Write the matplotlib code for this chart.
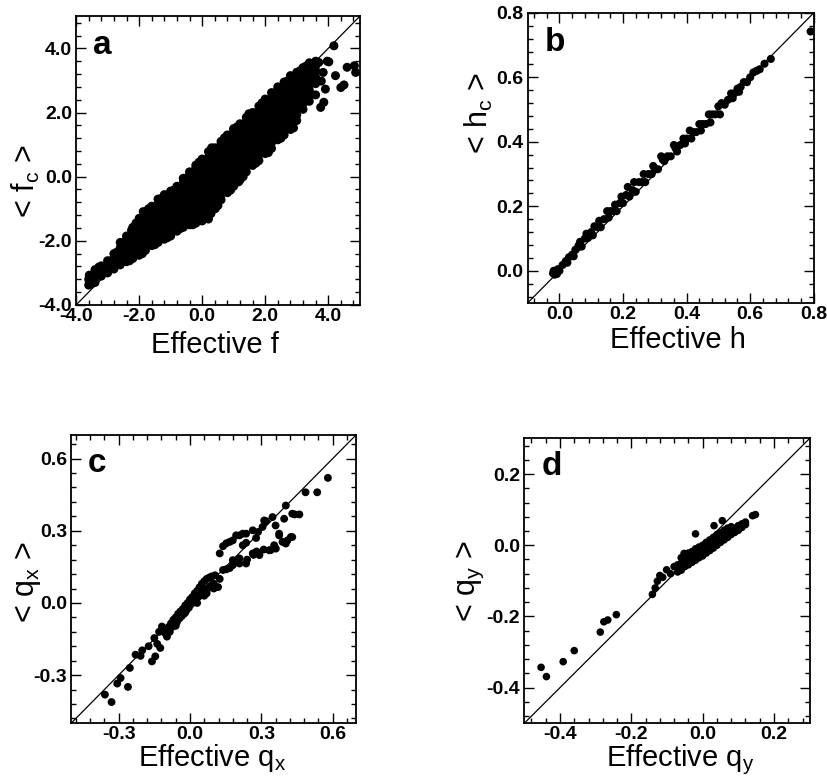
"""Four scatter panels: ensemble averages against effective values."""

import matplotlib
matplotlib.use("Agg")
import matplotlib.pyplot as plt
from matplotlib.ticker import MultipleLocator, FormatStrFormatter

plt.rcParams["font.family"] = ["Liberation Sans", "DejaVu Sans"]
plt.rcParams["mathtext.fontset"] = "custom"
plt.rcParams["mathtext.rm"] = "Liberation Sans"
plt.rcParams["mathtext.it"] = "Liberation Sans:italic"

# ---- panel a: dense cloud, read column by column ----
A_COL_X = [-3.6, -3.4, -3.2, -3.0, -2.8, -2.6, -2.4, -2.2, -2.0, -1.8, -1.6, -1.4,
           -1.2, -1.0, -0.8, -0.6, -0.4, -0.2, 0.0, 0.2, 0.4, 0.6, 0.8, 1.0,
           1.2, 1.4, 1.6, 1.8, 2.0, 2.2, 2.4, 2.6, 2.8, 3.0, 3.2, 3.4, 3.6]
A_COL_Y = [
    [-3.38, -3.2],
    [-3.3, -3.12, -2.9],
    [-3.1, -2.92, -2.78],
    [-3.0, -2.82, -2.62],
    [-2.88, -2.7, -2.52, -2.4],
    [-2.75, -2.57, -2.4, -2.22, -2.05],
    [-2.65, -2.47, -2.3, -2.12, -1.95, -1.85],
    [-2.55, -2.37, -2.2, -2.02, -1.85, -1.68, -1.58],
    [-2.45, -2.28, -2.1, -1.92, -1.75, -1.58, -1.42, -1.3],
    [-2.3, -2.13, -1.95, -1.78, -1.6, -1.43, -1.26, -1.1],
    [-2.15, -1.98, -1.8, -1.63, -1.45, -1.28, -1.1, -0.92],
    [-2.05, -1.88, -1.7, -1.52, -1.35, -1.17, -1.0, -0.84, -0.7],
    [-1.95, -1.78, -1.6, -1.42, -1.25, -1.07, -0.9, -0.72, -0.56],
    [-1.85, -1.68, -1.5, -1.32, -1.15, -0.97, -0.8, -0.62, -0.45],
    [-1.7, -1.53, -1.35, -1.17, -1.0, -0.82, -0.65, -0.47, -0.3],
    [-1.58, -1.4, -1.23, -1.05, -0.88, -0.7, -0.52, -0.35, -0.18, -0.05],
    [-1.5, -1.33, -1.15, -0.98, -0.8, -0.62, -0.45, -0.27, -0.1, 0.06, 0.15],
    [-1.45, -1.27, -1.1, -0.92, -0.75, -0.57, -0.4, -0.22, -0.05, 0.12, 0.28, 0.36],
    [-1.38, -1.2, -1.03, -0.85, -0.68, -0.5, -0.33, -0.15, 0.02, 0.2, 0.37, 0.55],
    [-1.32, -1.15, -0.97, -0.8, -0.62, -0.45, -0.27, -0.1, 0.08, 0.25, 0.43, 0.6, 0.78],
    [-1.0, -0.83, -0.65, -0.48, -0.3, -0.13, 0.05, 0.22, 0.4, 0.57, 0.75, 0.9],
    [-0.72, -0.55, -0.37, -0.2, -0.02, 0.15, 0.33, 0.5, 0.68, 0.85, 1.02, 1.1],
    [-0.5, -0.33, -0.15, 0.02, 0.2, 0.37, 0.55, 0.72, 0.9, 1.07, 1.25, 1.3],
    [-0.3, -0.12, 0.05, 0.23, 0.4, 0.58, 0.75, 0.93, 1.1, 1.28, 1.45, 1.5],
    [-0.1, 0.08, 0.25, 0.43, 0.6, 0.78, 0.95, 1.13, 1.3, 1.48, 1.65],
    [0.15, 0.32, 0.5, 0.67, 0.85, 1.02, 1.2, 1.37, 1.55, 1.72, 1.85],
    [0.35, 0.52, 0.7, 0.87, 1.05, 1.22, 1.4, 1.57, 1.75, 1.92, 2.0],
    [0.5, 0.68, 0.85, 1.03, 1.2, 1.38, 1.55, 1.73, 1.9, 2.08, 2.2],
    [0.72, 0.9, 1.07, 1.25, 1.42, 1.6, 1.77, 1.95, 2.12, 2.3, 2.42],
    [0.88, 1.05, 1.23, 1.4, 1.58, 1.75, 1.93, 2.1, 2.28, 2.45, 2.62],
    [1.15, 1.32, 1.5, 1.67, 1.85, 2.02, 2.2, 2.37, 2.55, 2.72, 2.8],
    [1.3, 1.48, 1.65, 1.83, 2.0, 2.18, 2.35, 2.53, 2.7, 2.88, 2.95],
    [1.47, 1.65, 1.82, 2.0, 2.17, 2.35, 2.52, 2.7, 2.87, 3.05, 3.15],
    [1.75, 1.92, 2.1, 2.27, 2.45, 2.62, 2.8, 2.97, 3.15, 3.25],
    [2.1, 2.27, 2.45, 2.62, 2.8, 2.97, 3.15, 3.32, 3.4],
    [2.35, 2.52, 2.7, 2.87, 3.05, 3.22, 3.4, 3.55],
    [2.55, 2.9, 3.1, 3.3, 3.45, 3.6],
]
# scattered points along the edges of the cloud and the isolated ones top right
A_OUT_X = [-3.58, -3.5, -3.28, -2.94, -2.7, -0.02, 0.12, 0.28, 3.76, 3.86, 3.78,
           3.84, 3.7, 3.97, 4.02, 4.18, 4.23, 4.4, 4.5, 4.6, 4.83, 4.87, 3.91,
           -2.5, -2.1, -1.7, -1.3, -0.9, -0.5, -0.1, 0.3, 0.7, 1.1, 1.5, 1.9, 2.3,
           2.7, 3.1, 3.3, -2.3, -1.9, -1.5, -1.1, -0.7, -0.3, 0.5, 0.9, 1.3, 1.7,
           2.1, 2.5, 2.9, -1.87, -2.24, 0.74, 1.48, 2.65, 3.02, 0.42, 1.16, 2.43]
A_OUT_Y = [-3.07, -3.33, -2.82, -2.66, -2.35, -1.36, -1.3, -1.15, 2.16, 2.32, 2.98,
           3.25, 3.56, 3.6, 3.58, 4.08, 3.15, 2.78, 2.86, 3.41, 3.46, 3.25, 2.73,
           -2.2, -1.45, -1.0, -0.68, -0.42, -0.12, 0.45, 0.9, 1.2, 1.55, 1.9, 2.3, 2.55,
           2.98, 3.3, 3.45, -2.62, -2.4, -2.12, -1.9, -1.62, -1.5, -0.9, -0.42, 0.0, 0.42,
           0.75, 1.2, 1.52, -1.09, -1.67, 1.23, 1.96, 2.94, 3.25, -0.99, -0.16, 1.18]

# ---- panel b ----
B_X = [-0.02, -0.015, -0.01, -0.018, -0.008, 0.0, -0.005, 0.01, 0.02, 0.025, 0.03,
       0.04, 0.045, 0.05, 0.06, 0.065, 0.07, 0.08, 0.085, 0.09, 0.10, 0.105, 0.11,
       0.12, 0.125, 0.13, 0.14, 0.15, 0.155, 0.16, 0.17, 0.175, 0.18, 0.19, 0.195,
       0.2, 0.21, 0.215, 0.22, 0.23, 0.235, 0.24, 0.25, 0.26, 0.265, 0.27, 0.28,
       0.29, 0.295, 0.3, 0.31, 0.32, 0.325, 0.33, 0.34, 0.35, 0.36, 0.365, 0.37,
       0.38, 0.39, 0.395, 0.4, 0.41, 0.415, 0.42, 0.43, 0.44, 0.445, 0.45, 0.46,
       0.47, 0.475, 0.48, 0.49, 0.5, 0.505, 0.51, 0.52, 0.53, 0.54, 0.545, 0.55,
       0.56, 0.565, 0.57, 0.58, 0.59, 0.6, 0.61, 0.62, 0.63, 0.645, 0.665, 0.79]
B_Y = [-0.008, -0.012, -0.005, 0.0, -0.01, 0.0, 0.005, 0.018, 0.03, 0.025, 0.042,
       0.05, 0.045, 0.065, 0.078, 0.09, 0.075, 0.1, 0.115, 0.102, 0.12, 0.11, 0.138,
       0.135, 0.155, 0.135, 0.16, 0.185, 0.165, 0.185, 0.185, 0.205, 0.185, 0.21, 0.23,
       0.21, 0.235, 0.26, 0.23, 0.25, 0.275, 0.245, 0.275, 0.275, 0.3, 0.275, 0.3,
       0.3, 0.325, 0.315, 0.315, 0.355, 0.345, 0.34, 0.355, 0.355, 0.39, 0.38, 0.37,
       0.39, 0.41, 0.395, 0.41, 0.435, 0.41, 0.43, 0.43, 0.455, 0.435, 0.455, 0.455,
       0.485, 0.46, 0.485, 0.485, 0.51, 0.485, 0.52, 0.515, 0.53, 0.55, 0.535, 0.55,
       0.565, 0.555, 0.57, 0.585, 0.585, 0.6, 0.615, 0.62, 0.625, 0.642, 0.657, 0.742]

# ---- panel c ----
C_X = [-0.358, -0.33, -0.306, -0.292, -0.261, -0.253, -0.229, -0.208, -0.201, -0.174,
       -0.16, -0.146, -0.15, -0.138, -0.125, -0.118, -0.111, -0.097, -0.09, -0.13,
       -0.105, -0.085,
       -0.08, -0.075, -0.07, -0.065, -0.06, -0.055, -0.05, -0.045, -0.04, -0.035,
       -0.03, -0.025, -0.02, -0.015, -0.01, -0.005, 0.0, 0.005, 0.01, 0.015, 0.02,
       0.025, 0.03, 0.035, 0.04, 0.045, 0.05, 0.055, 0.06, 0.065, 0.07, 0.075, 0.08,
       0.085, 0.09, 0.1, 0.105, 0.118, 0.1, 0.07, 0.03, 0.06, -0.06, -0.02,
       0.125, 0.139, 0.153, 0.167, 0.18, 0.18, 0.208, 0.208, 0.236, 0.24, 0.264,
       0.267, 0.28, 0.292, 0.31, 0.333, 0.34, 0.354, 0.361, 0.375, 0.389, 0.403,
       0.41, 0.424, 0.43,
       0.125, 0.139, 0.153, 0.167, 0.18, 0.194, 0.208, 0.222, 0.222, 0.236, 0.236,
       0.264, 0.278, 0.286, 0.305, 0.312, 0.32, 0.347, 0.36, 0.375, 0.396, 0.403,
       0.43, 0.44, 0.46, 0.486, 0.535, 0.58]
C_Y = [-0.381, -0.412, -0.335, -0.312, -0.349, -0.27, -0.215, -0.22, -0.197, -0.18,
       -0.243, -0.222, -0.146, -0.17, -0.187, -0.098, -0.112, -0.14, -0.1, -0.12,
       -0.125, -0.12,
       -0.085, -0.1, -0.07, -0.09, -0.06, -0.08, -0.045, -0.065, -0.035, -0.055,
       -0.025, -0.045, -0.01, -0.03, 0.0, -0.02, 0.015, -0.005, 0.025, 0.005, 0.04,
       0.015, 0.05, 0.025, 0.065, 0.035, 0.08, 0.045, 0.09, 0.055, 0.1, 0.06, 0.105,
       0.07, 0.11, 0.08, 0.115, 0.066, 0.06, 0.04, 0.0, 0.03, -0.095, -0.04,
       0.1, 0.137, 0.14, 0.145, 0.157, 0.178, 0.164, 0.185, 0.164, 0.18, 0.206,
       0.2, 0.214, 0.199, 0.222, 0.219, 0.22, 0.24, 0.226, 0.281, 0.254, 0.247,
       0.26, 0.274, 0.274,
       0.206, 0.236, 0.248, 0.254, 0.26, 0.281, 0.281, 0.288, 0.24, 0.288, 0.25,
       0.302, 0.27, 0.295, 0.316, 0.343, 0.34, 0.357, 0.322, 0.288, 0.35, 0.405,
       0.371, 0.368, 0.368, 0.46, 0.46, 0.52]

# ---- panel d ----
D_X = [-0.453, -0.438, -0.391, -0.36, -0.287, -0.277, -0.266, -0.242, -0.141, -0.133,
       -0.127, -0.12, -0.112, -0.101, -0.09, -0.08,
       -0.07, -0.07, -0.06, -0.06, -0.06, -0.05, -0.05, -0.05, -0.04, -0.04, -0.04,
       -0.03, -0.03, -0.03, -0.02, -0.02, -0.02, -0.01, -0.01, -0.01, 0.0, 0.0, 0.0,
       0.01, 0.01, 0.01, 0.02, 0.02, 0.02, 0.03, 0.03, 0.03, 0.04, 0.04, 0.04,
       0.05, 0.05, 0.05, 0.06, 0.06, 0.06, 0.07, 0.07, 0.07, 0.08, 0.08, 0.08,
       0.09, 0.09, 0.10, 0.10, 0.11, 0.11, 0.12, 0.12,
       0.14, 0.148, 0.032, 0.055, -0.02, -0.052]
D_Y = [-0.343, -0.369, -0.327, -0.296, -0.244, -0.215, -0.21, -0.195, -0.138, -0.12,
       -0.101, -0.085, -0.09, -0.069, -0.08, -0.06,
       -0.075, -0.055, -0.07, -0.05, -0.035, -0.06, -0.045, -0.03, -0.055, -0.04, -0.022,
       -0.048, -0.032, -0.018, -0.042, -0.025, -0.01, -0.035, -0.02, -0.005, -0.03, -0.015, 0.0,
       -0.022, -0.008, 0.008, -0.015, 0.0, 0.015, -0.008, 0.008, 0.022, 0.0, 0.015, 0.03,
       0.008, 0.022, 0.035, 0.015, 0.028, 0.042, 0.022, 0.035, 0.048, 0.03, 0.042, 0.052,
       0.036, 0.048, 0.042, 0.055, 0.05, 0.06, 0.058, 0.065,
       0.083, 0.086, 0.055, 0.069, 0.032, -0.023]

A_X = [x for x, ys in zip(A_COL_X, A_COL_Y) for _ in ys] + A_OUT_X
A_Y = [y for ys in A_COL_Y for y in ys] + A_OUT_Y

PANELS = [
    # letter, x, y, limits, major, minor, axes rect, xlabel, ylabel, label coords, dot size
    ("a", A_X, A_Y, (-4.0, 5.0), 2.0, 0.4, [0.092, 0.607, 0.343, 0.372],
     "Effective f", r"< f$_\mathregular{c}$ >", (0.49, -0.09), (-0.12, 0.43), 42),
    ("b", B_X, B_Y, (-0.1, 0.8), 0.2, 0.04, [0.638, 0.6095, 0.346, 0.374],
     "Effective h", r"< h$_\mathregular{c}$ >", (0.524, -0.08), (-0.115, 0.655), 34),
    ("c", C_X, C_Y, (-0.5, 0.7), 0.3, 0.06, [0.086, 0.068, 0.345, 0.372],
     r"Effective q$_\mathregular{x}$", r"< q$_\mathregular{x}$ >", (0.495, -0.066), (-0.10, 0.49), 32),
    ("d", D_X, D_Y, (-0.5, 0.3), 0.2, 0.04, [0.634, 0.068, 0.345, 0.367],
     r"Effective q$_\mathregular{y}$", r"< q$_\mathregular{y}$ >", (0.547, -0.068), (-0.135, 0.50), 30),
]

fig = plt.figure(figsize=(8.27, 7.76), dpi=100)

for (letter, xs, ys, lim, major, minor, rect,
     xlabel, ylabel, xlab_pos, ylab_pos, msize) in PANELS:
    ax = fig.add_axes(rect)
    ax.plot(lim, lim, color="black", linewidth=0.9, zorder=1)
    ax.scatter(xs, ys, s=msize, color="black", edgecolors="none", zorder=2)
    ax.set_xlim(lim)
    ax.set_ylim(lim)
    for axis in (ax.xaxis, ax.yaxis):
        axis.set_major_locator(MultipleLocator(major))
        axis.set_minor_locator(MultipleLocator(minor))
        axis.set_major_formatter(FormatStrFormatter("%.1f"))
    ax.tick_params(which="both", direction="in", top=True, right=True, width=1.0)
    ax.tick_params(which="major", length=7, pad=3, labelsize=14)
    ax.tick_params(which="minor", length=3.5)
    ax.tick_params(axis="x", which="major", pad=2)
    for lab in ax.get_xticklabels() + ax.get_yticklabels():
        lab.set_fontweight("bold")
    for sp in ax.spines.values():
        sp.set_linewidth(1.3)
    ax.set_xlabel(xlabel, fontsize=21)
    ax.set_ylabel(ylabel, fontsize=22)
    ax.xaxis.set_label_coords(*xlab_pos)
    ax.yaxis.set_label_coords(*ylab_pos)
    ax.text(0.06, 0.87, letter, transform=ax.transAxes, fontsize=24,
            fontweight="bold", va="baseline", ha="left")

fig.savefig("out.png", dpi=100)
